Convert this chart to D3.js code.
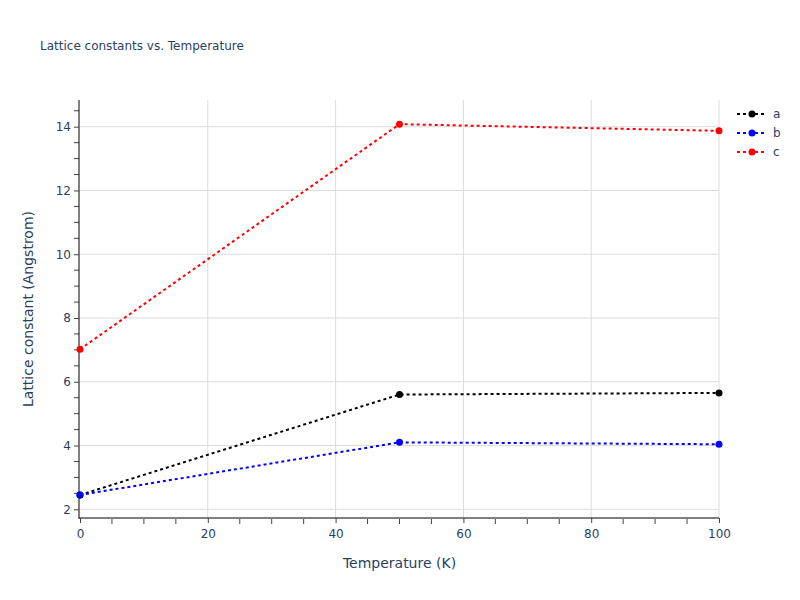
<!DOCTYPE html>
<html><head><meta charset="utf-8">
<script src="https://cdn.jsdelivr.net/npm/d3@7"></script>
<style>body{margin:0;background:#fff}svg{font-family:"DejaVu Sans",Verdana,sans-serif}</style>
</head><body><svg id="c" width="800" height="600"></svg>
<script>
const temperatures = [0, 50, 100];
const seriesNames = ["a", "b", "c"];
const seriesColors = ["black", "blue", "red"];
const valuesA = [2.45, 5.60, 5.65];
const valuesB = [2.45, 4.10, 4.04];
const valuesC = [7.02, 14.08, 13.87];
const xTicks = [0, 20, 40, 60, 80, 100];
const yTicks = [2, 4, 6, 8, 10, 12, 14];
const titleText = "Lattice constants vs. Temperature";
const xTitle = "Temperature (K)";
const yTitle = "Lattice constant (Angstrom)";

const series = [valuesA, valuesB, valuesC].map((v, i) => ({name: seriesNames[i], color: seriesColors[i], values: v}));
const svg = d3.select("#c");
const L = 80, R = 719, T = 100, B = 518;
const x = d3.scaleLinear().domain([0, 100]).range([L, R]);
const y = d3.scaleLinear().domain([1.727, 14.838]).range([B, T]);
const txt = "#2a3f5f";
const ff = "DejaVu Sans, Verdana, sans-serif";

// grid
svg.append("g").selectAll("line").data(yTicks).join("line")
  .attr("x1", L).attr("x2", R).attr("y1", d => y(d)).attr("y2", d => y(d))
  .attr("stroke", "#dcdcdc").attr("stroke-width", 1);
svg.append("g").selectAll("line").data(xTicks.filter(d => d > 0)).join("line")
  .attr("y1", T).attr("y2", B).attr("x1", d => x(d)).attr("x2", d => x(d))
  .attr("stroke", "#dcdcdc").attr("stroke-width", 1);

// minor ticks
const yMinor = d3.range(2, 15, 0.5).filter(v => v % 2 !== 0);
svg.append("g").selectAll("line").data(yMinor).join("line")
  .attr("x1", L - 1).attr("x2", L - 6).attr("y1", d => y(d)).attr("y2", d => y(d))
  .attr("stroke", "#444").attr("stroke-width", 1);
const xMinor = d3.range(0, 101, 5).filter(v => v % 20 !== 0);
svg.append("g").selectAll("line").data(xMinor).join("line")
  .attr("y1", B + 1).attr("y2", B + 6).attr("x1", d => x(d)).attr("x2", d => x(d))
  .attr("stroke", "#444").attr("stroke-width", 1);

// axes
const xAxis = svg.append("g").attr("transform", `translate(0,${B})`)
  .call(d3.axisBottom(x).tickValues(xTicks).tickSize(5).tickPadding(6).tickSizeOuter(0));
const yAxis = svg.append("g").attr("transform", `translate(${L - 1},0)`)
  .call(d3.axisLeft(y).tickValues(yTicks).tickSize(5).tickPadding(3).tickSizeOuter(0));
[xAxis, yAxis].forEach(g => {
  g.select(".domain").attr("stroke", "black").attr("stroke-width", 1);
  g.selectAll(".tick line").attr("stroke", "#444");
  g.selectAll("text").attr("fill", txt).style("font-size", "12px").style("font-family", ff);
});
yAxis.select(".domain").attr("d", `M0,${T}V${B + 0.5}`);
xAxis.select(".domain").attr("d", `M${L - 1.5},0H${R}`);

// lines
const line = d3.line().x((d, i) => x(temperatures[i])).y(d => y(d));
series.forEach(s => {
  svg.append("path").datum(s.values).attr("d", line)
    .attr("fill", "none").attr("stroke", s.color).attr("stroke-width", 2).attr("stroke-dasharray", "3,3");
  svg.append("g").selectAll("circle").data(s.values).join("circle")
    .attr("cx", (d, i) => x(temperatures[i])).attr("cy", d => y(d)).attr("r", 3.5).attr("fill", s.color);
});

// legend
series.forEach((s, i) => {
  const ly = 114 + i * 19;
  svg.append("line").attr("x1", 737).attr("x2", 767).attr("y1", ly).attr("y2", ly)
    .attr("stroke", s.color).attr("stroke-width", 2).attr("stroke-dasharray", "3,3");
  svg.append("circle").attr("cx", 752).attr("cy", ly).attr("r", 3.5).attr("fill", s.color);
  svg.append("text").attr("x", 773).attr("y", ly + 4).text(s.name)
    .attr("fill", txt).style("font-size", "12px");
});

// titles
svg.append("text").attr("x", 40).attr("y", 50).text(titleText).attr("fill", txt).style("font-size", "12px");
svg.append("text").attr("x", (L + R) / 2).attr("y", 568).attr("text-anchor", "middle").text(xTitle)
  .attr("fill", txt).style("font-size", "14px");
svg.append("text").attr("transform", `translate(33,${(T + B) / 2}) rotate(-90)`).attr("text-anchor", "middle")
  .text(yTitle).attr("fill", txt).style("font-size", "14px");
</script></body></html>
